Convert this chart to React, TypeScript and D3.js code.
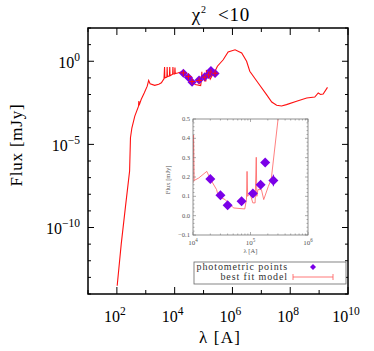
import React from 'react';
import * as d3 from 'd3';

// best fit model, log10(lambda [A]) and log10(flux [mJy])
const modelLogLam = [2.01, 2.15, 2.3, 2.44, 2.47, 2.52, 2.62, 2.75, 2.76, 2.77, 2.84, 2.95, 3.05, 3.1, 3.15, 3.31, 3.45, 3.54, 3.63, 3.65, 3.66, 3.73, 3.74, 3.75, 3.82, 3.83, 3.84, 3.93, 3.94, 3.95, 4.0, 4.01, 4.02, 4.1, 4.24, 4.3, 4.41, 4.44, 4.56, 4.64, 4.71, 4.9, 4.93, 4.94, 4.95, 4.99, 5.04, 5.08, 5.1, 5.11, 5.13, 5.19, 5.23, 5.31, 5.36, 5.48, 5.68, 5.85, 6.09, 6.32, 6.49, 6.6, 6.89, 7.18, 7.36, 7.53, 7.7, 7.87, 8.22, 8.57, 8.85, 8.97, 9.05, 9.14, 9.29];
const modelLogFlux = [-13.5, -11.0, -8.7, -6.6, -4.6, -4.0, -3.3, -2.7, -2.4, -2.65, -2.3, -1.9, -1.5, -1.15, -1.35, -1.45, -1.38, -1.3, -1.05, -0.35, -1.0, -0.95, -0.35, -0.93, -0.88, -0.35, -0.87, -0.78, -0.35, -0.77, -0.77, -0.38, -0.74, -0.71, -0.64, -0.72, -0.87, -1.0, -1.08, -1.24, -1.4, -1.46, -1.08, -0.64, -1.0, -0.93, -1.18, -1.18, -0.52, -1.0, -0.87, -0.87, -1.08, -0.82, -0.73, -0.3, 0.09, 0.56, 0.69, 0.5, 0.0, -0.6, -1.31, -2.01, -2.45, -2.65, -2.69, -2.61, -2.41, -2.21, -2.15, -1.91, -2.0, -1.97, -1.57];

// photometric points [mJy]
const photLam = [2e4, 3e4, 4e4, 7e4, 1.1e5, 1.5e5, 1.8e5, 2.5e5];
const photFlux = [0.19, 0.106, 0.054, 0.075, 0.115, 0.16, 0.275, 0.182];
const photErr = [0.012, 0.01, 0.008, 0.01, 0.012, 0.015, 0.015, 0.03];
const bandModel = [0.2, 0.12, 0.06, 0.07, 0.11, 0.15, 0.22, 0.19];

const xTickExp = [2, 4, 6, 8, 10];
const yTickExp = [0, -5, -10];
const insetXTickExp = [4, 5, 6];
const insetYTicks = [-0.1, 0.0, 0.1, 0.2, 0.3, 0.4, 0.5];

const FONT = 'Liberation Serif, DejaVu Serif, serif';
const PURPLE = '#7a00e8';
const RED = '#ff1010';

const M = { left: 88, right: 348, top: 28, bottom: 294 };
const I = { left: 193, right: 308, top: 119, bottom: 235 };

const Pow = ({ x, y, exp, size, anchor, fill }: any) => (
  <text x={x} y={y} fontFamily={FONT} fontSize={size} textAnchor={anchor} fill={fill || '#000'}>
    10<tspan fontSize={size * 0.72} dy={-size * 0.45}>{exp < 0 ? '\u2212' + -exp : exp}</tspan>
  </text>
);

const Diamond = ({ cx, cy, r }: any) => (
  <path d={`M${cx},${cy - r}L${cx + r},${cy}L${cx},${cy + r}L${cx - r},${cy}Z`} fill={PURPLE} />
);

export default function App() {
  const x = d3.scaleLog().domain([1e1, 1e10]).range([M.left, M.right]);
  const y = d3.scaleLog().domain([1e-14, 1e2]).range([M.bottom, M.top]);
  const xi = d3.scaleLog().domain([1e4, 1e6]).range([I.left, I.right]);
  const yi = d3.scaleLinear().domain([-0.1, 0.5]).range([I.bottom, I.top]);

  const model = modelLogLam.map((l, i) => ({ lam: Math.pow(10, l), f: Math.pow(10, modelLogFlux[i]) }));
  const mainLine = d3.line<any>().x(d => x(d.lam)).y(d => y(d.f));
  const insetLine = d3.line<any>().x(d => xi(d.lam)).y(d => yi(d.f));

  const decades = d3.range(1, 11);
  const yDecades = d3.range(-14, 3);
  const insetMinor: number[] = [];
  [1e4, 1e5].forEach(b => d3.range(2, 10).forEach(k => insetMinor.push(b * k)));
  const insetYMinor = d3.range(-0.1, 0.5001, 0.02);

  return (
    <svg width={374} height={351} style={{ position: 'absolute', left: 0, top: 0, background: '#fff' }}>
      <rect width={374} height={351} fill="#fff" />
      {/* title */}
      <text x={221} y={21} fontFamily={FONT} fontSize={19} textAnchor="middle" letterSpacing={0.8}>
        {'\u03c7'}<tspan fontSize={10} dy={-8}>2</tspan><tspan dy={8}>{' \u00a0<10'}</tspan>
      </text>

      {/* main model curve */}
      <path d={mainLine(model) || ''} fill="none" stroke={RED} strokeWidth={1.1} />
      {/* photometric points in main plot */}
      {photLam.map((l, i) => (
        <g key={'mp' + i}>
          <Diamond cx={x(l)} cy={y(photFlux[i])} r={4.5} />
          <line x1={x(l) - 3} x2={x(l) + 3} y1={y(bandModel[i])} y2={y(bandModel[i])} stroke={RED} strokeWidth={1} />
          <line x1={x(l)} x2={x(l)} y1={y(bandModel[i]) - 3} y2={y(bandModel[i]) + 3} stroke={RED} strokeWidth={1} />
        </g>
      ))}

      {/* main ticks */}
      {decades.map(e => {
        const len = e % 2 === 0 ? 7 : 4;
        return (
          <g key={'xt' + e}>
            <line x1={x(Math.pow(10, e))} x2={x(Math.pow(10, e))} y1={M.bottom} y2={M.bottom - len} stroke="#000" />
            <line x1={x(Math.pow(10, e))} x2={x(Math.pow(10, e))} y1={M.top} y2={M.top + len} stroke="#000" />
          </g>
        );
      })}
      {yDecades.map(e => {
        const len = e % 5 === 0 ? 6 : 3;
        return (
          <g key={'yt' + e}>
            <line x1={M.left} x2={M.left + len} y1={y(Math.pow(10, e))} y2={y(Math.pow(10, e))} stroke="#000" />
            <line x1={M.right} x2={M.right - len} y1={y(Math.pow(10, e))} y2={y(Math.pow(10, e))} stroke="#000" />
          </g>
        );
      })}
      <rect x={M.left} y={M.top} width={M.right - M.left} height={M.bottom - M.top} fill="none" stroke="#000" strokeWidth={1.5} />
      {xTickExp.map(e => (
        <Pow key={'xl' + e} x={x(Math.pow(10, e)) - 2} y={322} exp={e} size={16} anchor="middle" />
      ))}
      {yTickExp.map(e => (
        <Pow key={'yl' + e} x={80} y={y(Math.pow(10, e)) + 6.5} exp={e} size={16} anchor="end" />
      ))}
      <text x={220} y={343} fontFamily={FONT} fontSize={17} textAnchor="middle" letterSpacing={1.2}>{'\u03bb [A]'}</text>
      <text transform="translate(22,145) rotate(-90)" fontFamily={FONT} fontSize={17} textAnchor="middle" letterSpacing={0.8}>Flux [mJy]</text>

      {/* inset */}
      <defs>
        <clipPath id="insetClip">
          <rect x={I.left} y={I.top} width={I.right - I.left} height={I.bottom - I.top} />
        </clipPath>
      </defs>
      <rect x={I.left} y={I.top} width={I.right - I.left} height={I.bottom - I.top} fill="#fff" />
      <path d={insetLine(model) || ''} fill="none" stroke="#ff5555" strokeOpacity={0.75} strokeWidth={1} clipPath="url(#insetClip)" />
      {photLam.map((l, i) => (
        <g key={'ip' + i}>
          <line x1={xi(l)} x2={xi(l)} y1={yi(photFlux[i] - photErr[i])} y2={yi(photFlux[i] + photErr[i])} stroke={PURPLE} strokeWidth={1} />
          <Diamond cx={xi(l)} cy={yi(photFlux[i])} r={5} />
        </g>
      ))}
      {insetXTickExp.map(e => (
        <g key={'ixt' + e}>
          <line x1={xi(Math.pow(10, e))} x2={xi(Math.pow(10, e))} y1={I.bottom} y2={I.bottom - 3} stroke="#777" strokeWidth={0.6} />
          <line x1={xi(Math.pow(10, e))} x2={xi(Math.pow(10, e))} y1={I.top} y2={I.top + 3} stroke="#777" strokeWidth={0.6} />
          <Pow x={xi(Math.pow(10, e))} y={245} exp={e} size={7} anchor="middle" fill="#555" />
        </g>
      ))}
      {insetMinor.map((v, i) => (
        <g key={'ixm' + i}>
          <line x1={xi(v)} x2={xi(v)} y1={I.bottom} y2={I.bottom - 1.5} stroke="#777" strokeWidth={0.6} />
          <line x1={xi(v)} x2={xi(v)} y1={I.top} y2={I.top + 1.5} stroke="#777" strokeWidth={0.6} />
        </g>
      ))}
      {insetYMinor.map((v, i) => (
        <g key={'iym' + i}>
          <line x1={I.left} x2={I.left + (i % 5 === 0 ? 3 : 1.5)} y1={yi(v)} y2={yi(v)} stroke="#777" strokeWidth={0.6} />
          <line x1={I.right} x2={I.right - (i % 5 === 0 ? 3 : 1.5)} y1={yi(v)} y2={yi(v)} stroke="#777" strokeWidth={0.6} />
        </g>
      ))}
      {insetYTicks.map(v => (
        <text key={'iyl' + v} x={190} y={yi(v) + 2} fontFamily={FONT} fontSize={6.5} textAnchor="end" fill="#555">
          {d3.format('.1f')(v).replace('-', '\u2212')}
        </text>
      ))}
      <rect x={I.left} y={I.top} width={I.right - I.left} height={I.bottom - I.top} fill="none" stroke="#777" strokeWidth={0.8} />
      <text x={(I.left + I.right) / 2} y={253} fontFamily={FONT} fontSize={6.5} textAnchor="middle" fill="#555">{'\u03bb [A]'}</text>
      <text transform={`translate(170,${(I.top + I.bottom) / 2 + 3}) rotate(-90)`} fontFamily={FONT} fontSize={6.5} textAnchor="middle" fill="#555">Flux [mJy]</text>

      {/* legend */}
      <rect x={194} y={262} width={152} height={22} fill="#fff" stroke="#666" strokeWidth={0.8} />
      <text x={288} y={270} fontFamily={FONT} fontSize={10} textAnchor="end" fill="#333" letterSpacing={0.9}>photometric points</text>
      <text x={288} y={280} fontFamily={FONT} fontSize={10} textAnchor="end" fill="#333" letterSpacing={0.9}>best fit model</text>
      <Diamond cx={313} cy={267} r={3} />
      <line x1={293} x2={333} y1={277} y2={277} stroke="#ff5555" strokeWidth={0.8} />
      {[293, 333].map(px => (
        <line key={'lp' + px} x1={px} x2={px} y1={274} y2={280} stroke="#ff5555" strokeWidth={0.8} />
      ))}
    </svg>
  );
}
